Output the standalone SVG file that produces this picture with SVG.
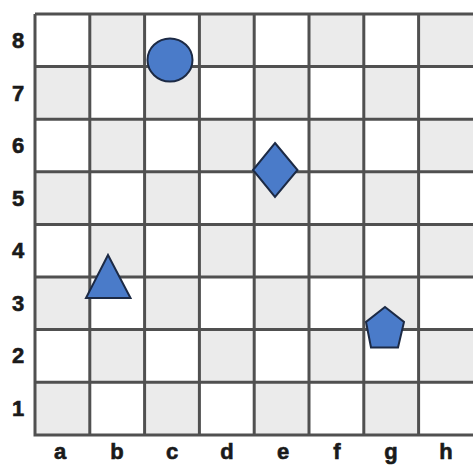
<svg xmlns="http://www.w3.org/2000/svg" width="473" height="465" viewBox="0 0 473 465">
<style>
.dark{fill:#ebebeb}
.grid{stroke:#505050;stroke-width:3;fill:none}
.piece{fill:#4a7bc9;stroke:#1c2a45;stroke-width:2}
.lbl{font-family:"Liberation Sans",Arial,sans-serif;font-weight:bold;font-size:22px;fill:#1a1a1a;stroke:#1a1a1a;stroke-width:0.6;text-anchor:middle}
</style>
<rect x="0" y="0" width="473" height="465" fill="#ffffff"/>
<g id="board">
<rect x="35" y="14" width="438" height="421" fill="#ffffff"/>
<g class="dark">
<rect x="89.8" y="14" width="54.8" height="52.6"/>
<rect x="199.4" y="14" width="54.8" height="52.6"/>
<rect x="309" y="14" width="54.8" height="52.6"/>
<rect x="418.6" y="14" width="54.8" height="52.6"/>
<rect x="35" y="66.6" width="54.8" height="52.6"/>
<rect x="144.6" y="66.6" width="54.8" height="52.6"/>
<rect x="254.2" y="66.6" width="54.8" height="52.6"/>
<rect x="363.8" y="66.6" width="54.8" height="52.6"/>
<rect x="89.8" y="119.2" width="54.8" height="52.6"/>
<rect x="199.4" y="119.2" width="54.8" height="52.6"/>
<rect x="309" y="119.2" width="54.8" height="52.6"/>
<rect x="418.6" y="119.2" width="54.8" height="52.6"/>
<rect x="35" y="171.8" width="54.8" height="52.6"/>
<rect x="144.6" y="171.8" width="54.8" height="52.6"/>
<rect x="254.2" y="171.8" width="54.8" height="52.6"/>
<rect x="363.8" y="171.8" width="54.8" height="52.6"/>
<rect x="89.8" y="224.4" width="54.8" height="52.6"/>
<rect x="199.4" y="224.4" width="54.8" height="52.6"/>
<rect x="309" y="224.4" width="54.8" height="52.6"/>
<rect x="418.6" y="224.4" width="54.8" height="52.6"/>
<rect x="35" y="277" width="54.8" height="52.6"/>
<rect x="144.6" y="277" width="54.8" height="52.6"/>
<rect x="254.2" y="277" width="54.8" height="52.6"/>
<rect x="363.8" y="277" width="54.8" height="52.6"/>
<rect x="89.8" y="329.6" width="54.8" height="52.6"/>
<rect x="199.4" y="329.6" width="54.8" height="52.6"/>
<rect x="309" y="329.6" width="54.8" height="52.6"/>
<rect x="418.6" y="329.6" width="54.8" height="52.6"/>
<rect x="35" y="382.2" width="54.8" height="52.8"/>
<rect x="144.6" y="382.2" width="54.8" height="52.8"/>
<rect x="254.2" y="382.2" width="54.8" height="52.8"/>
<rect x="363.8" y="382.2" width="54.8" height="52.8"/>
</g>
<path class="grid" d="M35,14H473M35,66.6H473M35,119.2H473M35,171.8H473M35,224.4H473M35,277H473M35,329.6H473M35,382.2H473M33.5,435H473M35,14V436.5M89.8,14V435M144.6,14V435M199.4,14V435M254.2,14V435M309,14V435M363.8,14V435M418.6,14V435"/>
</g>
<g id="rank-labels" class="lbl">
<text x="18" y="48">8</text>
<text x="18" y="101">7</text>
<text x="18" y="153">6</text>
<text x="18" y="206">5</text>
<text x="18" y="258">4</text>
<text x="18" y="311">3</text>
<text x="18" y="363">2</text>
<text x="18" y="416">1</text>
</g>
<g id="file-labels" class="lbl">
<text x="60" y="459">a</text>
<text x="117" y="459">b</text>
<text x="172" y="459">c</text>
<text x="227" y="459">d</text>
<text x="283" y="459">e</text>
<text x="337" y="459">f</text>
<text x="391" y="459">g</text>
<text x="446" y="459">h</text>
</g>
<g id="circle">
<ellipse class="piece" cx="170" cy="60" rx="22.5" ry="21.5"/>
</g>
<g id="diamond">
<polygon class="piece" points="275,143 297.5,170 275,197 253,170"/>
</g>
<g id="triangle">
<polygon class="piece" points="108,255 130.5,298 86,298"/>
</g>
<g id="pentagon">
<polygon class="piece" points="385,307 404,322 398,347.5 371,347.5 366,322"/>
</g>
</svg>
